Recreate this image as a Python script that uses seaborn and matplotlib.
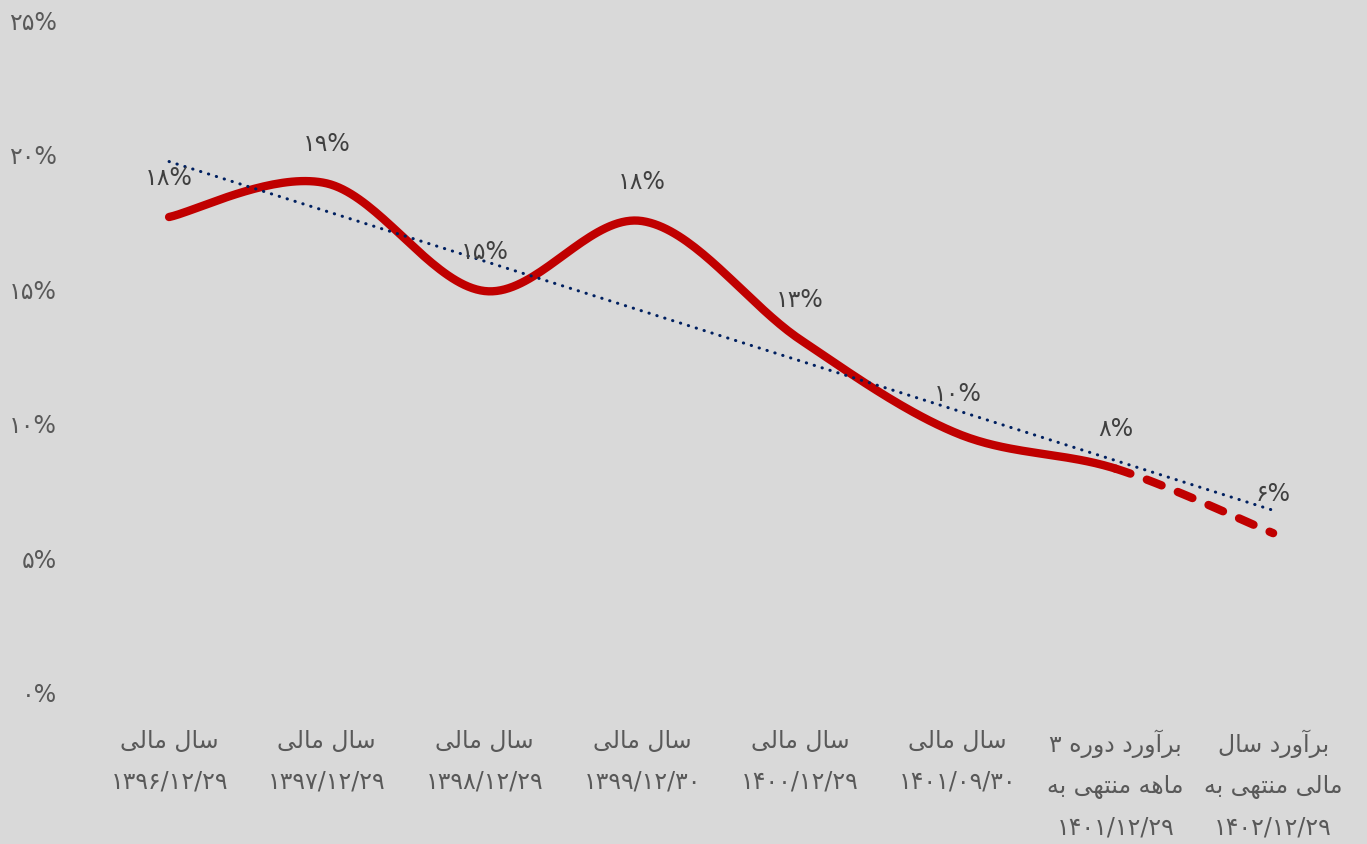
import numpy as np
import pandas as pd
import seaborn as sns
import matplotlib.pyplot as plt

periods = ['سال مالی\n۱۳۹۶/۱۲/۲۹', 'سال مالی\n۱۳۹۷/۱۲/۲۹', 'سال مالی\n۱۳۹۸/۱۲/۲۹',
           'سال مالی\n۱۳۹۹/۱۲/۳۰', 'سال مالی\n۱۴۰۰/۱۲/۲۹', 'سال مالی\n۱۴۰۱/۰۹/۳۰',
           'برآورد دوره ۳\nماهه منتهی به\n۱۴۰۱/۱۲/۲۹', 'برآورد سال\nمالی منتهی به\n۱۴۰۲/۱۲/۲۹']
values = [17.65, 18.9, 14.9, 17.5, 13.1, 9.6, 8.3, 5.9]
yticks = [0, 5, 10, 15, 20, 25]

# matplotlib has no arabic shaping, so pick the contextual forms by hand
forms = {
    'ا': ('\uFE8D', '\uFE8E'), 'آ': ('\uFE81', '\uFE82'),
    'د': ('\uFEA9', '\uFEAA'), 'ر': ('\uFEAD', '\uFEAE'), 'و': ('\uFEED', '\uFEEE'),
    'ب': ('\uFE8F', '\uFE90', '\uFE91', '\uFE92'), 'ت': ('\uFE95', '\uFE96', '\uFE97', '\uFE98'),
    'س': ('\uFEB1', '\uFEB2', '\uFEB3', '\uFEB4'), 'ل': ('\uFEDD', '\uFEDE', '\uFEDF', '\uFEE0'),
    'م': ('\uFEE1', '\uFEE2', '\uFEE3', '\uFEE4'), 'ن': ('\uFEE5', '\uFEE6', '\uFEE7', '\uFEE8'),
    'ه': ('\uFEE9', '\uFEEA', '\uFEEB', '\uFEEC'), 'ی': ('\uFEEF', '\uFEF0', '\uFEF3', '\uFEF4'),
}


def shape_word(w):
    if not any(c in forms for c in w):
        return w
    out = []
    for i, c in enumerate(w):
        f = forms[c]
        prev_j = i > 0 and len(forms.get(w[i - 1], ())) == 4
        next_j = len(f) == 4 and i < len(w) - 1 and w[i + 1] in forms
        if prev_j and next_j:
            out.append(f[3])
        elif prev_j:
            out.append(f[1])
        elif next_j:
            out.append(f[2])
        else:
            out.append(f[0])
    return ''.join(reversed(out))


def rtl(text):
    return '\n'.join(' '.join(shape_word(w) for w in reversed(line.split(' ')))
                     for line in text.split('\n'))


def fa(n):
    return str(n).translate(str.maketrans('0123456789', '۰۱۲۳۴۵۶۷۸۹'))


def smooth(x, y, n=40):
    # catmull-rom like the excel smoothed line
    p = np.column_stack([x, y]).astype(float)
    p = np.vstack([p[0], p, p[-1]])
    xs, ys = [], []
    t = np.linspace(0, 1, n)
    for i in range(1, len(p) - 2):
        p0, p1, p2, p3 = p[i - 1], p[i], p[i + 1], p[i + 2]
        c1 = p1 + (p2 - p0) / 6
        c2 = p2 - (p3 - p1) / 6
        seg = ((1 - t) ** 3)[:, None] * p1 + (3 * (1 - t) ** 2 * t)[:, None] * c1 \
            + (3 * (1 - t) * t ** 2)[:, None] * c2 + (t ** 3)[:, None] * p2
        xs.extend(seg[:, 0])
        ys.extend(seg[:, 1])
    return np.array(xs), np.array(ys)


x = np.arange(len(values))
sx, sy = smooth(x, values)
k = np.searchsorted(sx, x[-2])
trend = np.polyval(np.polyfit(x, values, 1), x)

sns.set_theme(style='white')
plt.rcParams['font.family'] = ['DejaVu Sans']
bg = '#D9D9D9'
fig = plt.figure(figsize=(13.67, 8.45), dpi=100, facecolor=bg)
ax = fig.add_axes([0.066, 0.18, 0.923, 0.796], facecolor=bg)

sns.lineplot(x=sx[:k + 1], y=sy[:k + 1], ax=ax, color='#C00000', linewidth=6,
             solid_capstyle='round', sort=False)
ax.plot(sx[k:], sy[k:], color='#C00000', linewidth=6, linestyle=(0, (1.9, 2.1)),
        dash_capstyle='round')
sns.lineplot(x=x, y=trend, ax=ax, color='#002060', linewidth=2.2,
             linestyle=(0, (0.1, 2.6)), dash_capstyle='round')

for xi, v in zip(x, values):
    ax.annotate(fa(int(round(v))) + '%', (xi, v), xytext=(0, 29), textcoords='offset points',
                ha='center', va='center', fontsize=17, color='#404040')

ax.set_xlim(-0.5, len(values) - 0.5)
ax.set_ylim(0, 25)
ax.set_yticks(yticks)
ax.set_yticklabels([fa(t) + '%' for t in yticks], fontsize=17, color='#595959')
ax.set_xticks(x)
ax.set_xticklabels([rtl(p) for p in periods], fontsize=17, color='#595959', linespacing=1.88)
ax.tick_params(axis='y', length=0, pad=24)
ax.tick_params(axis='x', length=0, pad=26)
sns.despine(left=True, bottom=True)

fig.savefig('out.png', dpi=100, facecolor=bg)
